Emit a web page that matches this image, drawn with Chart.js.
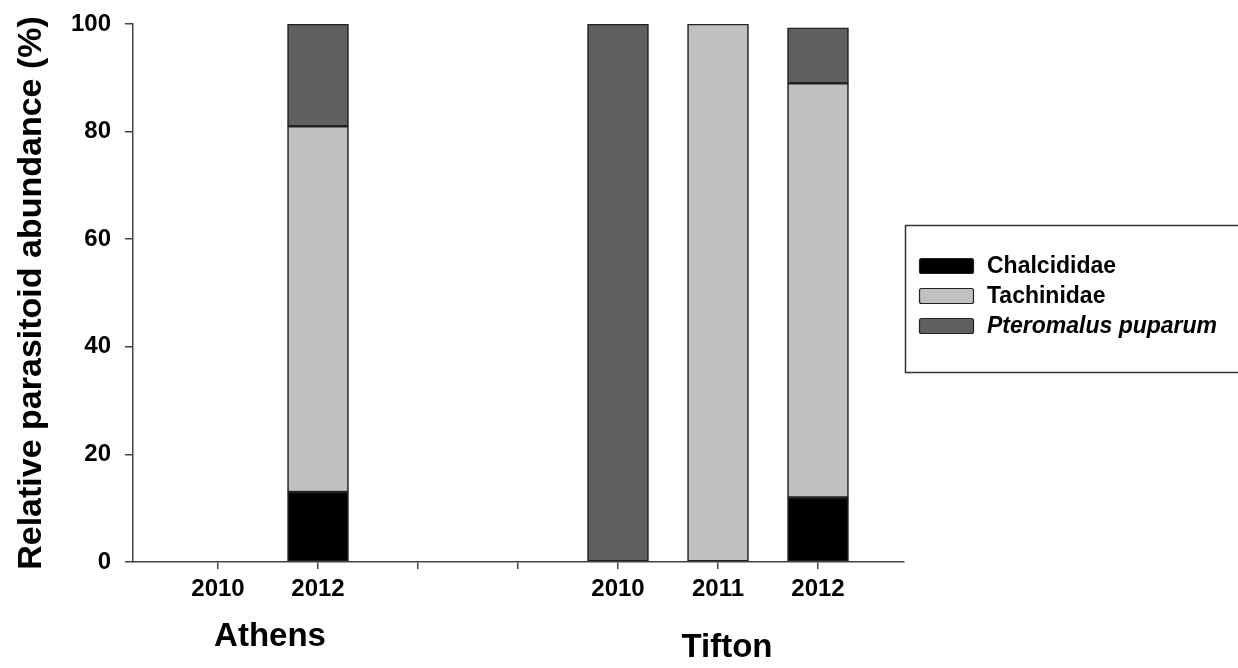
<!DOCTYPE html>
<html>
<head>
<meta charset="utf-8">
<script src="https://cdn.jsdelivr.net/npm/chart.js@4"></script>
<style>
  html, body { margin: 0; padding: 0; background: #ffffff; }
  #wrap { width: 1238px; height: 668px; position: relative; }
</style>
</head>
<body>
<div id="wrap"><canvas id="c" width="1238" height="668"></canvas></div>
<script>
// ---- Data ----
const categories = ['2010', '2012', '', '', '2010', '2011', '2012'];
const positions  = [1, 2, 3, 4, 5, 6, 7];
const chalcididae = [null, 13, null, null, null, null, 12];
const tachinidae  = [null, 68, null, null, null, 100, 77];
const pteromalus  = [null, 19, null, null, 100, null, 10.3];
const seriesNames = ['Chalcididae', 'Tachinidae', 'Pteromalus puparum'];
const yTicks = [0, 20, 40, 60, 80, 100];
const groupLabels = ['Athens', 'Tifton'];
const groupCenters = [1.52, 6.09];

const FONT = "'Liberation Sans', Arial, Helvetica, sans-serif";

function toPoints(arr) {
  return positions.map((p, i) => ({ x: p, y: arr[i] }));
}

const groupLabelPlugin = {
  id: 'groupLabels',
  afterDraw(chart) {
    const ctx = chart.ctx;
    const xs = chart.scales.x;
    const ys = [637, 648];
    ctx.save();
    ctx.fillStyle = '#000';
    ctx.font = 'bold 33px ' + FONT;
    ctx.textAlign = 'center';
    ctx.textBaseline = 'middle';
    groupLabels.forEach((g, i) => {
      ctx.fillText(g, xs.getPixelForValue(groupCenters[i]), ys[i]);
    });
    ctx.restore();
  }
};

const boxLegendPlugin = {
  id: 'boxLegend',
  afterDraw(chart) {
    const ctx = chart.ctx;
    ctx.save();
    ctx.strokeStyle = '#333';
    ctx.lineWidth = 1.5;
    ctx.strokeRect(905.5, 225.5, 340, 147);
    const rows = [266, 296, 326];
    chart.data.datasets.forEach((ds, i) => {
      const cy = rows[i];
      ctx.fillStyle = ds.backgroundColor;
      ctx.strokeStyle = '#222';
      ctx.lineWidth = 1.2;
      ctx.beginPath();
      if (ctx.roundRect) ctx.roundRect(919.5, cy - 7.5, 54, 15, 2);
      else ctx.rect(919.5, cy - 7.5, 54, 15);
      ctx.fill();
      ctx.stroke();
      ctx.fillStyle = '#000';
      ctx.font = (i === 2 ? 'italic bold ' : 'bold ') + '23px ' + FONT;
      ctx.textAlign = 'left';
      ctx.textBaseline = 'middle';
      ctx.fillText(ds.label, 987, cy + 1);
    });
    ctx.restore();
  }
};

const barCommon = {
  barThickness: 61,
  borderColor: '#222',
  borderWidth: 1.6,
  borderSkipped: false
};

new Chart(document.getElementById('c'), {
  type: 'bar',
  data: {
    datasets: [
      Object.assign({ label: seriesNames[0], data: toPoints(chalcididae), backgroundColor: '#000000' }, barCommon),
      Object.assign({ label: seriesNames[1], data: toPoints(tachinidae),  backgroundColor: '#c0c0c0' }, barCommon),
      Object.assign({ label: seriesNames[2], data: toPoints(pteromalus),  backgroundColor: '#606060' }, barCommon)
    ]
  },
  options: {
    responsive: false,
    animation: false,
    maintainAspectRatio: false,
    layout: { padding: { left: 0, right: 334, top: 24, bottom: 0 } },
    plugins: {
      legend: { display: false },
      tooltip: { enabled: false }
    },
    scales: {
      x: {
        type: 'linear',
        stacked: true,
        offset: false,
        min: 0.15,
        max: 7.86,
        afterBuildTicks(scale) {
          scale.ticks = positions.map(v => ({ value: v }));
        },
        afterFit(scale) { scale.height = 106; scale.paddingLeft = 0; scale.paddingRight = 0; },
        border: { display: true, color: '#444', width: 1.5 },
        grid: { display: true, offset: false, drawOnChartArea: false, drawTicks: true, tickLength: 7, color: '#444', lineWidth: 1.5 },
        ticks: {
          autoSkip: false,
          maxRotation: 0,
          padding: 6,
          color: '#000',
          font: { family: FONT, size: 24, weight: 'bold' },
          callback: (v) => {
            const i = positions.indexOf(v);
            return i >= 0 ? categories[i] : '';
          }
        }
      },
      y: {
        stacked: true,
        min: 0,
        max: 100,
        afterBuildTicks(scale) {
          scale.ticks = yTicks.map(v => ({ value: v }));
        },
        afterFit(scale) { scale.width = 133; scale.paddingTop = 0; scale.paddingBottom = 0; },
        border: { display: true, color: '#444', width: 1.5 },
        grid: { display: true, drawOnChartArea: false, drawTicks: true, tickLength: 8, color: '#444', lineWidth: 1.5 },
        ticks: {
          padding: 14,
          color: '#000',
          font: { family: FONT, size: 24, weight: 'bold' }
        },
        title: {
          display: true,
          text: 'Relative parasitoid abundance (%)',
          color: '#000',
          font: { family: FONT, size: 34, weight: 'bold', lineHeight: 1 },
          padding: { top: 15, bottom: 0 }
        }
      }
    }
  },
  plugins: [groupLabelPlugin, boxLegendPlugin]
});
</script>
</body>
</html>
